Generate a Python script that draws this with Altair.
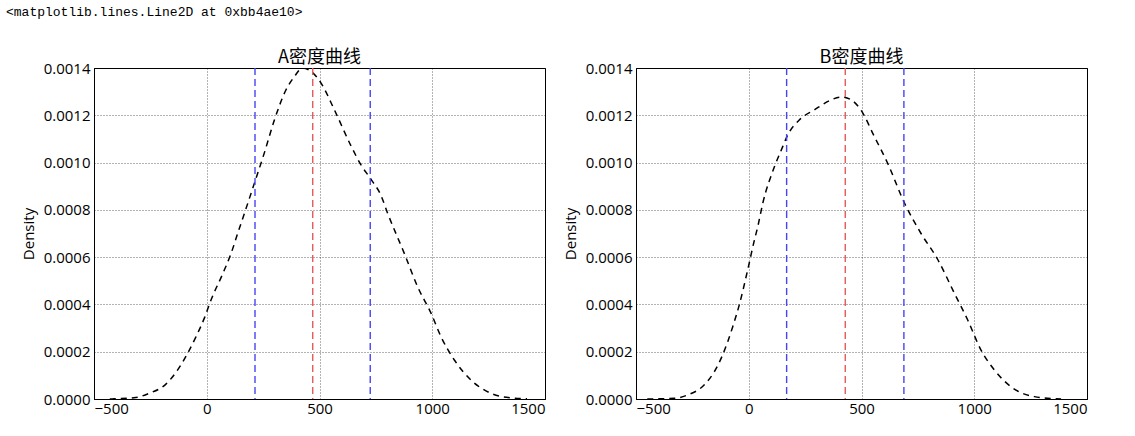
import altair as alt
import pandas as pd

# ---- data ----
a_x = [-430, -410, -323, -255, -181, -129, -85, -48, -11, 19, 71, 108, 137, 167, 211, 255, 300,
       351, 388, 425, 462, 507, 566, 640, 684, 728, 773, 802, 876, 935, 995, 1039, 1098, 1172,
       1260, 1349, 1420]
a_y = [0.0, 0.000001, 0.000005, 0.000024, 0.000063, 0.000123, 0.000193, 0.000263, 0.000341,
       0.000419, 0.00053, 0.000616, 0.0007, 0.000785, 0.000912, 0.00104, 0.00118, 0.001307,
       0.001363, 0.0014, 0.001386, 0.001336, 0.001223, 0.00107, 0.00099, 0.00093, 0.00086,
       0.000786, 0.000616, 0.000475, 0.000362, 0.000263, 0.000165, 0.00008, 0.000024,
       0.000005, 0.000001]
b_x = [-450, -330, -271, -197, -153, -116, -71, -42, -5, 25, 40, 62, 113, 143, 173, 224, 291,
       365, 409, 453, 497, 557, 616, 690, 764, 838, 912, 971, 1030, 1089, 1163, 1267, 1385]
b_y = [0.0, 0.000003, 0.000017, 0.00006, 0.000115, 0.000186, 0.000306, 0.000398, 0.000545,
       0.000672, 0.000729, 0.000827, 0.00098, 0.00105, 0.001117, 0.00118, 0.001223, 0.001265,
       0.001277, 0.001266, 0.001223, 0.00111, 0.000997, 0.00083, 0.0007, 0.00059, 0.000447,
       0.000334, 0.000207, 0.000123, 0.000052, 0.00001, 0.0]

a_lines = [214, 470, 725]
b_lines = [168, 428, 688]
line_colors = ["#4646f0", "#e45a5a", "#4646f0"]

x_ticks = [-500, 0, 500, 1000, 1500]
y_ticks = [0.0, 0.0002, 0.0004, 0.0006, 0.0008, 0.0010, 0.0012, 0.0014]

titles = ["A密度曲线", "B密度曲线"]
header_text = "<matplotlib.lines.Line2D at 0xbb4ae10>"

FONT = "Noto Sans CJK SC"
NUM_FONT = "Open Sans"


def panel(xs, ys, vlines, title, header=None):
    df = pd.DataFrame({"x": xs, "density": ys})
    vdf = pd.DataFrame({"x": vlines, "c": line_colors})
    xenc = alt.X("x:Q", scale=alt.Scale(domain=[-500, 1500], nice=False, zero=False),
                 axis=alt.Axis(values=x_ticks, format="d", title=None))
    curve = alt.Chart(df).mark_line(
        color="black", strokeDash=[6, 5], strokeWidth=1.5, interpolate="monotone", clip=True
    ).encode(
        x=xenc,
        y=alt.Y("density:Q", scale=alt.Scale(domain=[0, 0.0014], nice=False),
                axis=alt.Axis(values=y_ticks, format=".4f", title="Density")),
    )
    rules = alt.Chart(vdf).mark_rule(strokeDash=[7, 4], strokeWidth=1.4).encode(
        x=alt.X("x:Q"),
        color=alt.Color("c:N", scale=None),
    )
    ttl = alt.Chart(pd.DataFrame({"t": [title]})).mark_text(
        align="center", baseline="alphabetic", font=FONT, fontSize=18, color="black"
    ).encode(x=alt.value(225.5), y=alt.value(-5), text="t:N")
    layers = [curve, rules, ttl]
    if header is not None:
        tdf = pd.DataFrame({"t": [header]})
        txt = alt.Chart(tdf).mark_text(
            align="left", baseline="middle", font="Liberation Mono", fontSize=13, color="black"
        ).encode(x=alt.value(-88), y=alt.value(-56), text="t:N")
        layers.append(txt)
    return alt.layer(*layers).properties(width=451, height=331)


left = panel(a_x, a_y, a_lines, titles[0], header_text)
right = panel(b_x, b_y, b_lines, titles[1])

chart = alt.hconcat(left, right, spacing=91, bounds="flush").properties(
    padding={"left": 5, "top": 5, "right": 5, "bottom": 5},
).configure_view(
    stroke="black", strokeWidth=1
).configure_axis(
    labelFont=NUM_FONT, labelFontSize=15, labelColor="black",
    titleFont=NUM_FONT, titleFontSize=15, titleFontWeight="normal", titleColor="black",
    domainColor="black", domainWidth=1,
    ticks=False, labelPadding=4,
    grid=True, gridColor="black", gridDash=[1, 2], gridOpacity=0.75, gridWidth=0.8,
).configure_axisY(
    titlePadding=7
).configure_axisX(
    labelPadding=2
)

chart.save("out.html", embed_options={"renderer": "svg", "actions": False})
